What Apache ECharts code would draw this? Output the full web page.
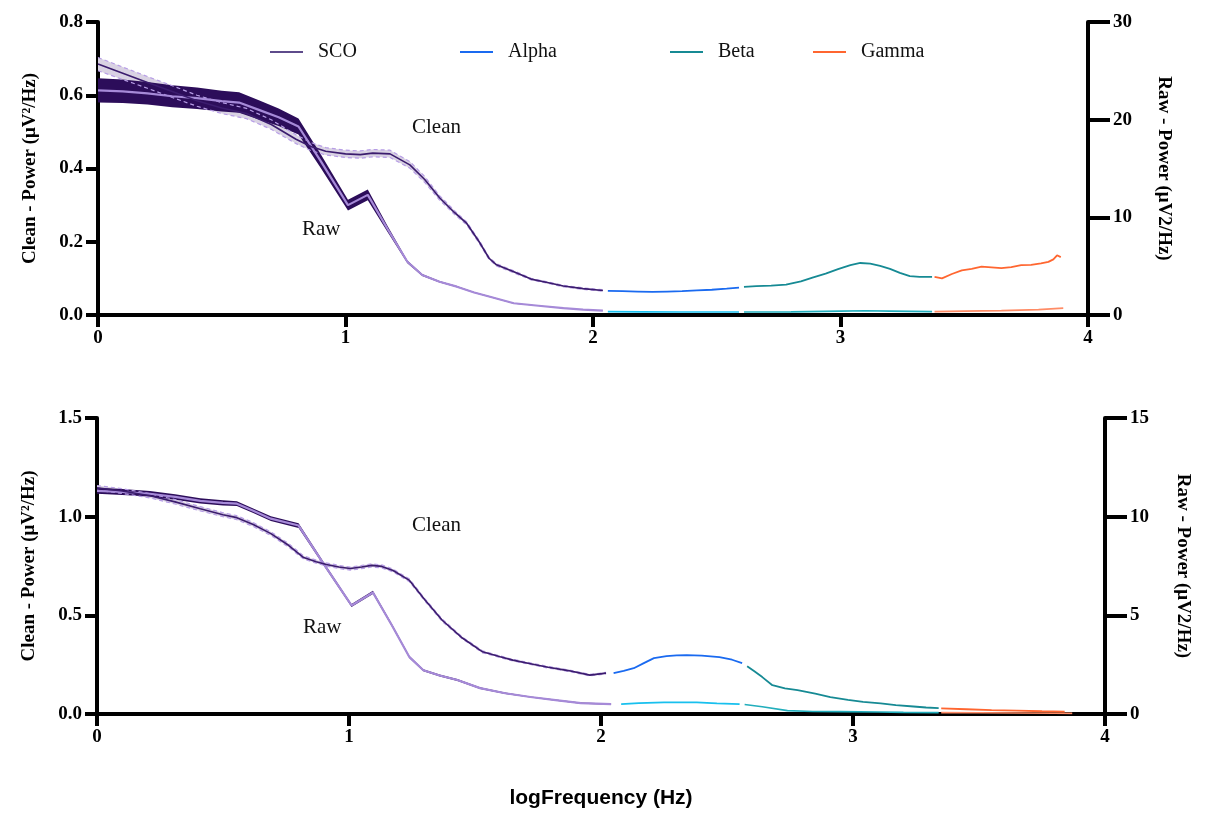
<!DOCTYPE html>
<html><head><meta charset="utf-8">
<script src="https://cdn.jsdelivr.net/npm/echarts@6/dist/echarts.min.js"></script>
<style>html,body{margin:0;padding:0;background:#fff}#c{width:1208px;height:814px}</style>
</head><body><div id="c"></div><script>
// ---------- TOP PANEL ----------
var topCleanX = [0.00,0.10,0.20,0.30,0.40,0.50,0.60,0.70,0.80,0.86,0.92,1.00,1.06,1.11,1.18,1.26,1.32,1.38,1.44,1.49,1.54,1.58,1.61,1.68,1.75,1.82,1.88,1.96,2.04];
var topCleanY = [0.685,0.66,0.635,0.61,0.585,0.565,0.55,0.52,0.48,0.46,0.447,0.44,0.438,0.442,0.44,0.41,0.37,0.32,0.28,0.25,0.20,0.155,0.137,0.118,0.098,0.088,0.079,0.072,0.067];
var topCleanSem = [0.018,0.017,0.016,0.016,0.015,0.015,0.014,0.013,0.012,0.011,0.010,0.010,0.010,0.010,0.010,0.009,0.008,0.006,0.005,0.004,0.004,0.003,0.003,0.003,0.002,0.002,0.002,0.002,0.002];
var topRawX = [0.00,0.10,0.20,0.30,0.40,0.50,0.57,0.65,0.73,0.81,0.90,1.01,1.09,1.17,1.25,1.31,1.38,1.45,1.52,1.58,1.68,1.78,1.88,1.96,2.04];
var topRawY = [23.0,22.9,22.7,22.4,22.2,21.9,21.75,21.0,20.25,19.3,15.75,11.25,12.3,8.8,5.45,4.1,3.4,2.9,2.3,1.9,1.2,0.95,0.7,0.55,0.45];
var topRawSem = [1.25,1.2,1.15,1.12,1.1,1.07,1.05,0.98,0.9,0.82,0.7,0.55,0.55,0.3,0.14,0.1,0.08,0.07,0.06,0.05,0.04,0.03,0.03,0.02,0.02];
var topAlphaX = [2.06,2.12,2.18,2.24,2.30,2.36,2.42,2.48,2.54,2.59];
var topAlphaY = [0.066,0.065,0.064,0.063,0.064,0.065,0.067,0.069,0.072,0.075];
var topBetaX = [2.61,2.66,2.72,2.78,2.84,2.89,2.94,2.99,3.04,3.08,3.12,3.16,3.20,3.24,3.28,3.32,3.37];
var topBetaY = [0.077,0.079,0.080,0.083,0.092,0.103,0.113,0.125,0.136,0.142,0.140,0.134,0.126,0.115,0.106,0.104,0.104];
var topGammaX = [3.38,3.41,3.45,3.49,3.53,3.57,3.61,3.65,3.69,3.73,3.77,3.81,3.84,3.86,3.875,3.89];
var topGammaY = [0.104,0.100,0.112,0.122,0.126,0.132,0.130,0.128,0.131,0.136,0.137,0.141,0.145,0.152,0.163,0.158];
var topRawAlphaX = [2.06,2.20,2.35,2.50,2.59];
var topRawAlphaY = [0.35,0.32,0.30,0.30,0.30];
var topRawBetaX = [2.61,2.80,3.00,3.10,3.20,3.37];
var topRawBetaY = [0.30,0.32,0.40,0.43,0.40,0.35];
var topRawGammaX = [3.38,3.50,3.65,3.80,3.90];
var topRawGammaY = [0.35,0.40,0.45,0.55,0.70];

// ---------- BOTTOM PANEL ----------
var botCleanX = [0.00,0.10,0.21,0.31,0.41,0.50,0.555,0.62,0.69,0.76,0.82,0.87,0.91,0.96,1.005,1.05,1.09,1.13,1.175,1.24,1.30,1.37,1.45,1.53,1.60,1.65,1.72,1.79,1.87,1.956,2.02];
var botCleanY = [1.146,1.13,1.106,1.075,1.04,1.01,0.995,0.96,0.914,0.855,0.793,0.772,0.758,0.745,0.737,0.745,0.753,0.748,0.727,0.677,0.58,0.475,0.385,0.315,0.29,0.273,0.255,0.237,0.22,0.197,0.207];
var botCleanSem = [0.012,0.012,0.011,0.011,0.011,0.010,0.010,0.010,0.009,0.009,0.008,0.008,0.008,0.008,0.008,0.008,0.008,0.008,0.007,0.007,0.006,0.006,0.005,0.005,0.004,0.004,0.004,0.004,0.004,0.004,0.004];
var botRawX = [0.00,0.10,0.21,0.31,0.41,0.50,0.555,0.62,0.69,0.80,0.90,1.01,1.095,1.17,1.24,1.295,1.36,1.43,1.52,1.62,1.72,1.82,1.92,2.04];
var botRawY = [11.31,11.25,11.16,11.0,10.8,10.7,10.66,10.3,9.9,9.55,7.6,5.5,6.16,4.5,2.88,2.22,1.95,1.72,1.31,1.05,0.86,0.7,0.55,0.5];
var botRawSem = [0.15,0.15,0.14,0.14,0.13,0.13,0.12,0.12,0.12,0.12,0.09,0.08,0.08,0.07,0.06,0.05,0.05,0.05,0.04,0.04,0.03,0.03,0.03,0.03];
var botAlphaX = [2.05,2.09,2.13,2.17,2.21,2.26,2.30,2.34,2.40,2.47,2.52,2.56];
var botAlphaY = [0.207,0.218,0.232,0.258,0.283,0.293,0.297,0.298,0.296,0.288,0.275,0.258];
var botBetaX = [2.58,2.61,2.64,2.68,2.73,2.78,2.85,2.91,2.98,3.04,3.11,3.17,3.24,3.29,3.34];
var botBetaY = [0.242,0.215,0.187,0.146,0.130,0.121,0.103,0.086,0.072,0.061,0.054,0.045,0.038,0.033,0.030];
var botGammaX = [3.35,3.45,3.55,3.65,3.75,3.84];
var botGammaY = [0.028,0.024,0.020,0.017,0.014,0.012];
var botRawAlphaX = [2.08,2.15,2.25,2.38,2.46,2.55];
var botRawAlphaY = [0.50,0.55,0.59,0.59,0.54,0.50];
var botRawBetaX = [2.57,2.64,2.74,2.84,2.95,3.10,3.20,3.34];
var botRawBetaY = [0.48,0.37,0.17,0.13,0.12,0.10,0.08,0.07];
var botRawGammaX = [3.35,3.50,3.65,3.80,3.87];
var botRawGammaY = [0.07,0.06,0.05,0.04,0.03];

// ---------- ticks / labels ----------
var xTicks = {min:0, max:4, interval:1};
var topLeftAxis = {min:0, max:0.8, interval:0.2};
var topRightAxis = {min:0, max:30, interval:10};
var botLeftAxis = {min:0, max:1.5, interval:0.5};
var botRightAxis = {min:0, max:15, interval:5};
var legendNames = ['SCO','Alpha','Beta','Gamma'];

var C = {
  sco:'#3b1c6e', scoLegend:'#5e4b8b', rawBand:'#2c0d5a', rawLine:'#a68ad8',
  cleanFill:'#d9d2e3', cleanEdge:'#b79de6',
  alpha:'#1a6af0', alphaRaw:'#18c0ee', beta:'#168a94', betaRaw:'#22aebc',
  gamma:'#ff6630', gammaRaw:'#ff8c66'
};

function pts(xs, ys){ return xs.map(function(x,i){return [x, ys[i]];}); }
function line(name, xs, ys, xi, yi, color, w, z, dashed){
  return {name:name, type:'line', xAxisIndex:xi, yAxisIndex:yi, data:pts(xs,ys), symbol:'none',
    lineStyle:{color:color, width:w, type: dashed ? [4,3] : 'solid'}, itemStyle:{color:color}, z:z||5, silent:true, animation:false};
}
function band(id, xs, ys, hs, xi, yi, fill, edge){
  var data = xs.map(function(x,i){return [x, ys[i]-hs[i], ys[i]+hs[i]];});
  var out = [{
    name:id, type:'custom', xAxisIndex:xi, yAxisIndex:yi, data:data, z:2, silent:true, animation:false,
    encode:{x:0, y:[1,2]},
    renderItem:function(params, api){
      if (params.dataIndex !== 0) return null;
      var poly = [];
      for (var i=0;i<data.length;i++) poly.push(api.coord([data[i][0], data[i][2]]));
      for (var j=data.length-1;j>=0;j--) poly.push(api.coord([data[j][0], data[j][1]]));
      return {type:'polygon', shape:{points:poly}, style:{fill:fill, stroke:null}};
    }
  }];
  if (edge) {
    out.push(line(id+' lo', xs, data.map(function(d){return d[1];}), xi, yi, edge, 1.2, 3, true));
    out.push(line(id+' hi', xs, data.map(function(d){return d[2];}), xi, yi, edge, 1.2, 3, true));
  }
  return out;
}

var serifLabel = {fontFamily:'Liberation Serif', fontWeight:'bold', fontSize:19, color:'#000'};
function xAxis(gi, name){
  return {type:'value', gridIndex:gi, min:xTicks.min, max:xTicks.max, interval:xTicks.interval,
    axisLine:{onZero:false, lineStyle:{color:'#000', width:4}},
    axisTick:{length:12, lineStyle:{color:'#000', width:4}},
    axisLabel:Object.assign({margin:14}, serifLabel),
    splitLine:{show:false},
    name:name||'', nameLocation:'middle', nameGap:74,
    nameTextStyle:{fontFamily:'Liberation Sans', fontWeight:'bold', fontSize:21, color:'#000'}};
}
function yAxis(gi, pos, ax, name, dec, gap, tickLen, margin){
  return {type:'value', gridIndex:gi, position:pos, min:ax.min, max:ax.max, interval:ax.interval,
    axisLine:{show:true, onZero:false, lineStyle:{color:'#000', width:4}},
    axisTick:{show:true, length:tickLen, lineStyle:{color:'#000', width:4}},
    axisLabel:Object.assign({margin:margin, formatter:function(v){return dec? v.toFixed(1): String(v);}}, serifLabel),
    splitLine:{show:false},
    name:name, nameLocation:'middle', nameGap:gap, nameRotate: pos==='left'?90:-90,
    nameTextStyle:{fontFamily:'Liberation Serif', fontWeight:'bold', fontSize:19, color:'#000'}};
}

var series = [];
// top
series = series.concat(band('tc', topCleanX, topCleanY, topCleanSem, 0, 0, C.cleanFill, C.cleanEdge));
series = series.concat(band('tr', topRawX, topRawY, topRawSem, 0, 1, C.rawBand, null));
series.push(line('SCO raw', topRawX, topRawY, 0, 1, C.rawLine, 2.2, 4));
series.push(line('SCO', topCleanX, topCleanY, 0, 0, C.sco, 1.6, 6));
series.push(line('Alpha raw', topRawAlphaX, topRawAlphaY, 0, 1, C.alphaRaw, 1.6));
series.push(line('Beta raw', topRawBetaX, topRawBetaY, 0, 1, C.betaRaw, 1.6));
series.push(line('Gamma raw', topRawGammaX, topRawGammaY, 0, 1, C.gammaRaw, 1.6));
series.push(line('Alpha', topAlphaX, topAlphaY, 0, 0, C.alpha, 1.8));
series.push(line('Beta', topBetaX, topBetaY, 0, 0, C.beta, 1.8));
series.push(line('Gamma', topGammaX, topGammaY, 0, 0, C.gamma, 1.8));
// bottom
series = series.concat(band('bc', botCleanX, botCleanY, botCleanSem, 1, 2, C.cleanFill, C.cleanEdge));
series = series.concat(band('br', botRawX, botRawY, botRawSem, 1, 3, C.rawBand, null));
series.push(line('SCO raw', botRawX, botRawY, 1, 3, C.rawLine, 2.2, 4));
series.push(line('SCO', botCleanX, botCleanY, 1, 2, C.sco, 1.6, 6));
series.push(line('Alpha raw', botRawAlphaX, botRawAlphaY, 1, 3, C.alphaRaw, 1.6));
series.push(line('Beta raw', botRawBetaX, botRawBetaY, 1, 3, C.betaRaw, 1.6));
series.push(line('Gamma raw', botRawGammaX, botRawGammaY, 1, 3, C.gammaRaw, 1.6));
series.push(line('Alpha', botAlphaX, botAlphaY, 1, 2, C.alpha, 1.8));
series.push(line('Beta', botBetaX, botBetaY, 1, 2, C.beta, 1.8));
series.push(line('Gamma', botGammaX, botGammaY, 1, 2, C.gamma, 1.8));

var legendLeft = [265, 455, 665, 808];
var legendColor = [C.scoLegend, C.alpha, C.beta, C.gamma];
var legends = legendNames.map(function(n,i){
  return {left:legendLeft[i], top:37, icon:'rect', itemWidth:33, itemHeight:2, selectedMode:false,
    data:[{name:n, itemStyle:{color:legendColor[i]}}],
    textStyle:{fontFamily:'Liberation Serif', fontSize:20, color:'#111', padding:[0,0,0,10]}};
});

var annoFont = '21px "Liberation Serif"';
var option = {
  backgroundColor:'#fff',
  animation:false,
  grid:[{left:98, top:22, width:990, height:293},{left:97, top:418, width:1008, height:296}],
  xAxis:[xAxis(0), xAxis(1,'logFrequency (Hz)')],
  yAxis:[
    yAxis(0,'left',topLeftAxis,'Clean - Power (μV²/Hz)',true,58,12,15),
    yAxis(0,'right',topRightAxis,'Raw - Power (μV2/Hz)',false,66,22,25),
    yAxis(1,'left',botLeftAxis,'Clean - Power (μV²/Hz)',true,58,12,15),
    yAxis(1,'right',botRightAxis,'Raw - Power (μV2/Hz)',false,68,22,25)
  ],
  legend:legends,
  graphic:[
    {type:'text', left:412, top:117, style:{text:'Clean', font:annoFont, fill:'#111'}},
    {type:'text', left:302, top:219, style:{text:'Raw', font:annoFont, fill:'#111'}},
    {type:'text', left:412, top:515, style:{text:'Clean', font:annoFont, fill:'#111'}},
    {type:'text', left:303, top:617, style:{text:'Raw', font:annoFont, fill:'#111'}}
  ],
  series:series
};
var chart = echarts.init(document.getElementById('c'));
chart.setOption(option);
</script></body></html>
